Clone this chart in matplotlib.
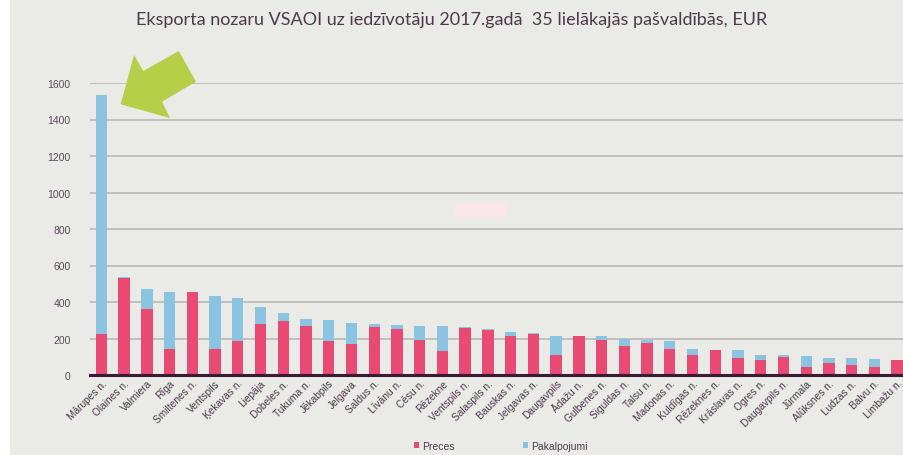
import matplotlib
matplotlib.use("Agg")
import matplotlib.pyplot as plt
from matplotlib.patches import Polygon, Rectangle
import numpy as np

municipalities = [
    "Mārupes n.", "Olaines n.", "Valmiera", "Rīga", "Smiltenes n.", "Ventspils",
    "Ķekavas n.", "Liepāja", "Dobeles n.", "Tukuma n.", "Jēkabpils", "Jelgava",
    "Saldus n.", "Līvānu n.", "Cēsu n.", "Rēzekne", "Ventspils n.", "Salaspils n.",
    "Bauskas n.", "Jelgavas n.", "Daugavpils", "Ādažu n.", "Gulbenes n.", "Siguldas n.",
    "Talsu n.", "Madonas n.", "Kuldīgas n.", "Rēzeknes n.", "Krāslavas n.", "Ogres n.",
    "Daugavpils n.", "Jūrmala", "Alūksnes n.", "Ludzas n.", "Balvu n.", "Limbažu n.",
]
preces = [
    226, 531, 363, 142, 455, 141, 186, 279, 298, 268, 188, 172,
    261, 252, 192, 130, 258, 247, 214, 225, 108, 214, 192, 161,
    174, 142, 108, 137, 95, 82, 100, 44, 67, 55, 42, 82,
]
pakalpojumi = [
    1308, 7, 108, 315, 2, 294, 238, 94, 44, 37, 113, 115,
    17, 20, 76, 137, 7, 5, 20, 3, 107, 0, 19, 36,
    18, 46, 34, 0, 40, 29, 12, 62, 26, 36, 46, 0,
]
y_ticks = [0, 200, 400, 600, 800, 1000, 1200, 1400, 1600]

title = "Eksporta nozaru VSAOI uz iedzīvotāju 2017.gadā  35 lielākajās pašvaldībās, EUR"

PINK = "#E94A73"
BLUE = "#8BC4E0"
BG = "#EAEAE6"
TEXT = "#4B3A4C"

W, H = 904, 456
fig = plt.figure(figsize=(W / 100, H / 100), dpi=100, facecolor=BG)

# thin white strip on the left as in the source slide
fig.patches.append(Rectangle((0, 0), 10 / W, 1, transform=fig.transFigure,
                             facecolor="white", edgecolor="none", zorder=-5))

ax = fig.add_axes([90 / W, (H - 376) / H, (W - 90) / W, 292 / H])
ax.set_facecolor("none")

x = np.arange(len(municipalities))
ax.bar(x, preces, width=0.5, color=PINK, label="Preces", zorder=3)
ax.bar(x, pakalpojumi, width=0.5, bottom=preces, color=BLUE,
       label="Pakalpojumi", zorder=3)

ax.set_xlim(-0.5, 35.3)
ax.set_ylim(0, 1600)
ax.set_yticks(y_ticks)
ax.set_yticklabels([str(v) for v in y_ticks], fontsize=7.5, color="#5A4A5A",
                   family="Liberation Sans")
ax.grid(axis="y", color="#B4B4B2", linewidth=1.1, zorder=1)
ax.tick_params(axis="y", length=0, pad=14)
ax.tick_params(axis="x", length=0, pad=2)
ax.set_xticks(x)
ax.set_xticklabels(municipalities, rotation=45, ha="right", va="top",
                   rotation_mode="anchor", fontsize=7.3, color=TEXT,
                   family="Liberation Sans")
for side in ["top", "right", "left"]:
    ax.spines[side].set_visible(False)
ax.spines["bottom"].set_color("#3A1A34")
ax.spines["bottom"].set_linewidth(2.2)
ax.spines["bottom"].set_zorder(4)

fig.text(0.5, 1 - 20 / H, title, ha="center", va="center", fontsize=13,
         color=TEXT, family="Lato")

# green arrow pointing at the first bar
arrow_px = [(120.7, 105.3), (134, 56), (143.3, 72), (178.7, 52),
            (196, 82.7), (162, 102.7), (170, 119)]
fig.patches.append(Polygon([(px / W, 1 - py / H) for px, py in arrow_px],
                           closed=True, transform=fig.transFigure,
                           facecolor="#B7CE48", edgecolor="none", zorder=5))

# faint pink box left over in the source image
fig.patches.append(Rectangle((455 / W, 1 - 218 / H), 52 / W, 14 / H,
                             transform=fig.transFigure, facecolor="#FBE5E9",
                             edgecolor="none", zorder=2))

fig.legend(loc="center", bbox_to_anchor=(501 / W, 1 - 447 / H), ncol=2,
           frameon=False, handlelength=0.5, handleheight=0.5,
           handletextpad=0.3, columnspacing=6.5,
           prop={"family": "Liberation Sans", "size": 7.5},
           labelcolor=TEXT)

fig.savefig("out.png", dpi=100, facecolor=fig.get_facecolor())
